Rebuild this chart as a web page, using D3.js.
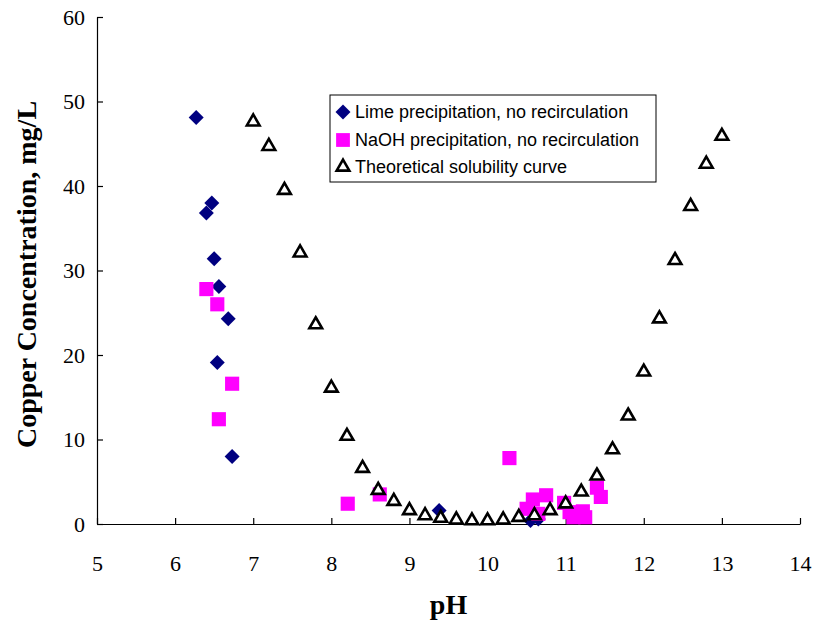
<!DOCTYPE html>
<html>
<head>
<meta charset="utf-8">
<script src="https://cdn.jsdelivr.net/npm/d3@7"></script>
<style>
  body { margin: 0; background: #fff; }
  svg { display: block; }
</style>
</head>
<body>
<div id="chart"></div>
<script>
// lime precipitation, no recirculation
const limePH   = [6.27, 6.40, 6.47, 6.50, 6.56, 6.68, 6.54, 6.73, 9.38, 10.55, 10.65];
const limeCu   = [48.1, 36.8, 38.0, 31.4, 28.1, 24.3, 19.1, 8.0, 1.6, 0.4, 0.6];

// NaOH precipitation, no recirculation
const naohPH   = [6.40, 6.54, 6.56, 6.73, 8.21, 8.62, 10.28, 10.50, 10.58, 10.75, 10.65, 10.98, 11.05, 11.10, 11.22, 11.25, 11.40, 11.45];
const naohCu   = [27.8, 26.0, 12.4, 16.6, 2.4, 3.5, 7.8, 1.8, 2.9, 3.4, 1.2, 2.5, 1.4, 0.8, 1.5, 0.8, 4.3, 3.2];

// theoretical solubility curve
const theoPH   = [7.0, 7.2, 7.4, 7.6, 7.8, 8.0, 8.2, 8.4, 8.6, 8.8, 9.0, 9.2, 9.4, 9.6, 9.8, 10.0,
                  10.2, 10.4, 10.6, 10.8, 11.0, 11.2, 11.4, 11.6, 11.8, 12.0, 12.2, 12.4, 12.6, 12.8, 13.0];
const theoCu   = [47.6, 44.7, 39.5, 32.1, 23.6, 16.1, 10.4, 6.6, 4.0, 2.7, 1.6, 1.0, 0.7, 0.5, 0.4, 0.4,
                  0.5, 0.8, 1.0, 1.6, 2.4, 3.8, 5.7, 8.8, 12.8, 18.0, 24.3, 31.2, 37.6, 42.6, 45.9];

const xTicks = [5, 6, 7, 8, 9, 10, 11, 12, 13, 14];
const yTicks = [0, 10, 20, 30, 40, 50, 60];
const legendLabels = ["Lime precipitation, no recirculation", "NaOH precipitation, no recirculation", "Theoretical solubility curve"];

const width = 813, height = 633;
const margin = {left: 97, right: 13, top: 17, bottom: 109};

const svg = d3.select("#chart").append("svg")
    .attr("width", width)
    .attr("height", height);

const x = d3.scaleLinear().domain([5, 14]).range([margin.left, width - margin.right]);
const y = d3.scaleLinear().domain([0, 60]).range([height - margin.bottom, margin.top]);

// axes, ticks pointing inward
svg.append("g")
    .attr("transform", "translate(0," + y(0) + ")")
    .call(d3.axisBottom(x).tickValues(xTicks).tickSize(-6).tickPadding(31).tickSizeOuter(0));
svg.append("g")
    .attr("transform", "translate(" + x(5) + ",0)")
    .call(d3.axisLeft(y).tickValues(yTicks).tickSize(-6).tickPadding(12).tickSizeOuter(0));

svg.selectAll(".tick text")
    .style("font-family", "'Liberation Serif', 'Times New Roman', serif")
    .style("font-size", "22px")
    .attr("fill", "#000");
svg.selectAll(".domain, .tick line").attr("stroke", "#000").attr("stroke-width", 1.2);

// axis titles
svg.append("text")
    .attr("x", (x(5) + x(14)) / 2)
    .attr("y", 614)
    .attr("text-anchor", "middle")
    .style("font-family", "'Liberation Serif', 'Times New Roman', serif")
    .style("font-weight", "bold")
    .style("font-size", "28px")
    .text("pH");

svg.append("text")
    .attr("transform", "translate(36," + ((y(0) + y(60)) / 2 + 4) + ") rotate(-90)")
    .attr("text-anchor", "middle")
    .style("font-family", "'Liberation Serif', 'Times New Roman', serif")
    .style("font-weight", "bold")
    .style("font-size", "28px")
    .text("Copper Concentration, mg/L");

// marker shapes
const diamond = d3.symbol().type(d3.symbolSquare).size(112);
const square = d3.symbol().type(d3.symbolSquare).size(200);
const triangle = d3.symbol().type(d3.symbolTriangle).size(70);

const lime = limePH.map((p, i) => ({p: p, c: limeCu[i]}));
const naoh = naohPH.map((p, i) => ({p: p, c: naohCu[i]}));
const theo = theoPH.map((p, i) => ({p: p, c: theoCu[i]}));

svg.append("g").selectAll("path")
    .data(lime).enter().append("path")
    .attr("d", diamond)
    .attr("transform", d => "translate(" + x(d.p) + "," + y(d.c) + ") rotate(45)")
    .attr("fill", "#000080");

svg.append("g").selectAll("path")
    .data(naoh).enter().append("path")
    .attr("d", square)
    .attr("transform", d => "translate(" + x(d.p) + "," + y(d.c) + ")")
    .attr("fill", "#ff00ff");

svg.append("g").selectAll("path")
    .data(theo).enter().append("path")
    .attr("d", triangle)
    .attr("transform", d => "translate(" + x(d.p) + "," + y(d.c) + ")")
    .attr("fill", "#fff")
    .attr("stroke", "#000")
    .attr("stroke-width", 2.6)
    .attr("stroke-linejoin", "miter");

// legend
const legend = svg.append("g").attr("transform", "translate(330,95)");
legend.append("rect")
    .attr("width", 326)
    .attr("height", 87)
    .attr("fill", "#fff")
    .attr("stroke", "#000")
    .attr("stroke-width", 1);

const rowY = [17, 45, 72];
legend.append("path").attr("d", diamond).attr("fill", "#000080")
    .attr("transform", "translate(13," + rowY[0] + ") rotate(45)");
legend.append("path").attr("d", d3.symbol().type(d3.symbolSquare).size(190)).attr("fill", "#ff00ff")
    .attr("transform", "translate(13," + rowY[1] + ")");
legend.append("path").attr("d", triangle).attr("fill", "#fff")
    .attr("stroke", "#000").attr("stroke-width", 2.6)
    .attr("transform", "translate(13," + rowY[2] + ")");

legend.selectAll("text.lbl")
    .data(legendLabels).enter().append("text")
    .attr("class", "lbl")
    .attr("x", 25)
    .attr("y", (d, i) => rowY[i] + 6)
    .style("font-family", "'Liberation Sans', Arial, sans-serif")
    .style("font-size", "18px")
    .text(d => d);
</script>
</body>
</html>
